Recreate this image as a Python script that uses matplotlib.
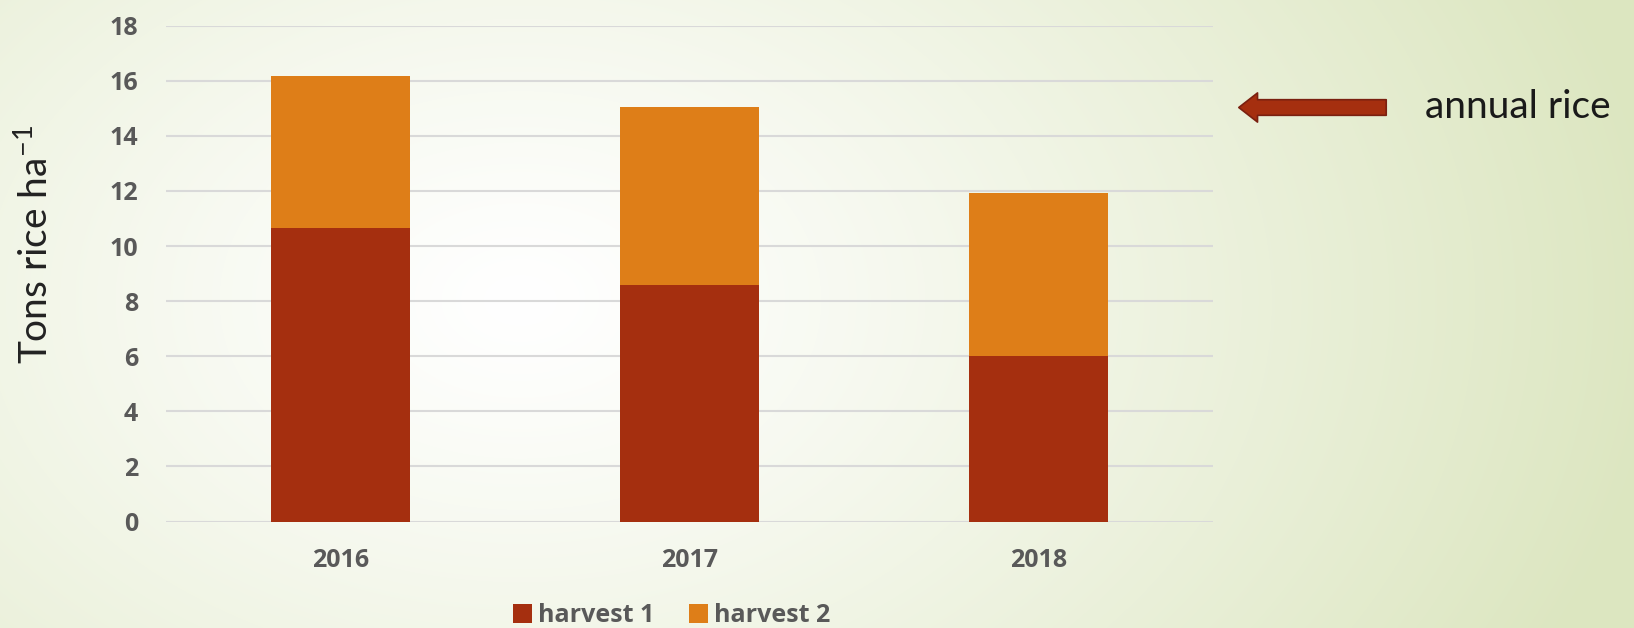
import numpy as np
import matplotlib
matplotlib.use("Agg")
import matplotlib.pyplot as plt

# data
years = ["2016", "2017", "2018"]
harvest1 = [10.67, 8.59, 6.0]
harvest2 = [5.52, 6.47, 5.92]
yticks = [0, 2, 4, 6, 8, 10, 12, 14, 16, 18]

c1 = "#A52F0F"
c2 = "#DE7E18"
txt = "#595959"

W, H = 1634, 628
fig = plt.figure(figsize=(W / 100, H / 100), dpi=100)

# background: soft radial gradient, white in the middle, pale green at the edges
bg = fig.add_axes([0, 0, 1, 1])
yy, xx = np.mgrid[0:H, 0:W]
d = np.sqrt(((xx - 520) / 1150.0) ** 2 + ((yy - 300) / 800.0) ** 2)
d = np.clip(d, 0, 1) ** 1.2
inner = np.array([1.0, 1.0, 1.0])
outer = np.array([0xdc, 0xe6, 0xc0]) / 255.0
img = inner[None, None, :] * (1 - d[..., None]) + outer[None, None, :] * d[..., None]
bg.imshow(img, aspect="auto", extent=[0, W, H, 0])
bg.axis("off")

ax = fig.add_axes([166 / W, 1 - 521.5 / H, (1213 - 166) / W, (521.5 - 25.7) / H])
ax.patch.set_alpha(0)
x = np.arange(len(years))
ax.bar(x, harvest1, width=0.4, color=c1, label="harvest 1", zorder=3)
ax.bar(x, harvest2, width=0.4, bottom=harvest1, color=c2, label="harvest 2", zorder=3)

ax.set_xlim(-0.5, 2.5)
ax.set_ylim(0, 18)
ax.set_yticks(yticks)
ax.set_xticks(x)
ax.set_xticklabels(years)
ax.grid(axis="y", color="#d9d9d9", linewidth=1.5, zorder=0)
for s in ax.spines.values():
    s.set_visible(False)
ax.tick_params(length=0, labelsize=18, labelcolor=txt)
ax.tick_params(axis="y", pad=20)
ax.tick_params(axis="x", pad=19)
for t in ax.get_xticklabels() + ax.get_yticklabels():
    t.set_fontweight("bold")
    t.set_family("Open Sans")

fig.text(36 / W, 1 - 244 / H, "Tons rice ha$^{\\mathregular{-1}}$", rotation=90, ha="center", va="center",
         fontsize=28, color="#222222", family="Lato")

leg = ax.legend(loc="center", bbox_to_anchor=(0.483, -0.19), ncol=2, frameon=False,
                handlelength=0.75, handleheight=0.75, handletextpad=0.25, columnspacing=1.4,
                prop={"family": "Open Sans", "weight": "bold", "size": 18})
for t in leg.get_texts():
    t.set_color(txt)

# arrow pointing at the chart, with its note
ax.annotate("", xy=(1236, H - 107.5), xycoords="figure pixels",
            xytext=(1389, H - 107.5), textcoords="figure pixels",
            arrowprops=dict(arrowstyle="simple,head_length=0.9,head_width=1.4,tail_width=0.75",
                            fc=c1, ec="#7a2010", lw=1.2, mutation_scale=15))
fig.text(1425 / W, 1 - 107 / H, "annual rice", ha="left", va="center", fontsize=28,
         color="#1a1a1a", family="Lato")

fig.savefig("out.png", dpi=100)
